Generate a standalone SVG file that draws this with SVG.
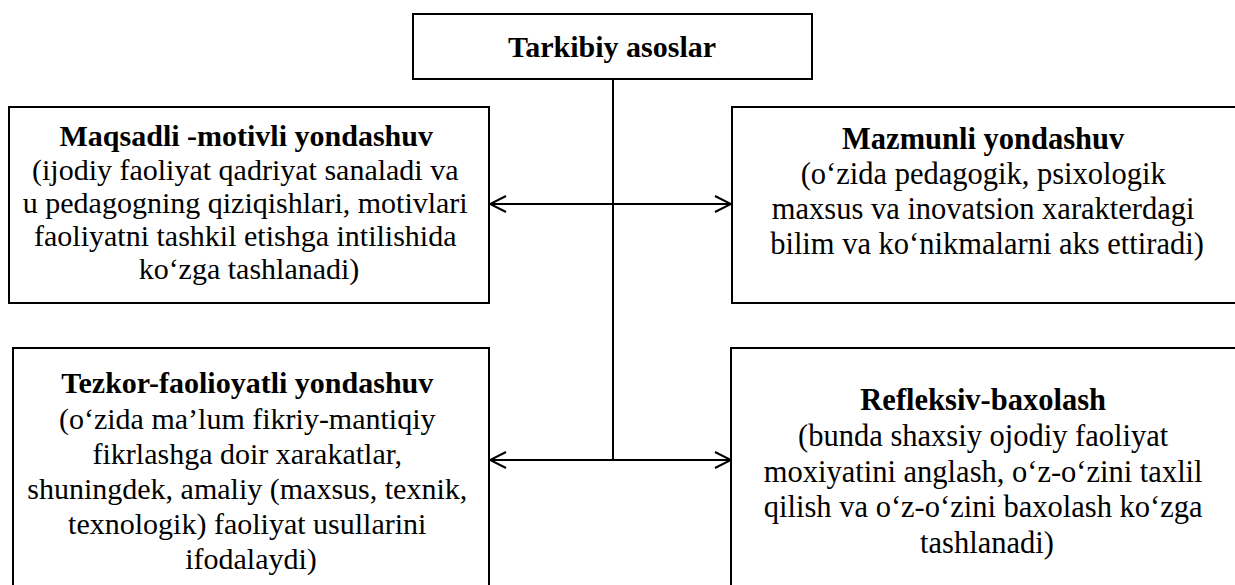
<svg xmlns="http://www.w3.org/2000/svg" width="1235" height="585" viewBox="0 0 1235 585">
  <defs>
    <style>
      .box { fill: #ffffff; stroke: #000000; stroke-width: 2; }
      text { font-family: 'Liberation Serif', 'Times New Roman', serif; font-size: 30px; fill: #000000; text-anchor: middle; }
      .r { font-size: 30.5px; }
      .b { font-weight: bold; }
      .conn { stroke: #000000; stroke-width: 2; fill: none; }
    </style>
    <marker id="arr" viewBox="0 0 20 20" refX="18" refY="10" markerWidth="20" markerHeight="20" markerUnits="userSpaceOnUse" orient="auto-start-reverse">
      <path d="M2,2 L18,10 L2,18" fill="none" stroke="#000" stroke-width="2"/>
    </marker>
  </defs>
  <rect width="1235" height="585" fill="#ffffff"/>

  <g id="connectors">
    <line class="conn" x1="613" y1="79" x2="613" y2="460"/>
    <line class="conn" x1="490" y1="204" x2="731" y2="204" marker-start="url(#arr)" marker-end="url(#arr)"/>
    <line class="conn" x1="490" y1="460" x2="731" y2="460" marker-start="url(#arr)" marker-end="url(#arr)"/>
  </g>

  <g id="node-root" font-family="Liberation Serif, serif">
    <rect class="box" x="413" y="14" width="399" height="65"/>
    <text class="b" x="612" y="57">Tarkibiy asoslar</text>
  </g>

  <g id="node-maqsadli" font-family="Liberation Serif, serif">
    <rect class="box" x="9" y="107" width="480" height="196"/>
    <text x="249">
      <tspan class="b" x="250" y="146">Maqsadli -motivli yondashuv</tspan>
      <tspan x="249" y="180">(ijodiy faoliyat qadriyat sanaladi va</tspan>
      <tspan x="249" y="213">u pedagogning qiziqishlari, motivlari</tspan>
      <tspan x="249" y="246">faoliyatni tashkil etishga intilishida</tspan>
      <tspan x="249" y="279">ko‘zga tashlanadi)</tspan>
    </text>
  </g>

  <g id="node-mazmunli" font-family="Liberation Serif, serif">
    <rect class="box" x="732" y="107" width="520" height="196"/>
    <text class="r" x="987">
      <tspan class="b" x="987" y="149">Mazmunli yondashuv</tspan>
      <tspan x="987" y="184">(o‘zida pedagogik, psixologik</tspan>
      <tspan x="987" y="219">maxsus va inovatsion xarakterdagi</tspan>
      <tspan x="987" y="254">bilim va ko‘nikmalarni aks ettiradi)</tspan>
    </text>
  </g>

  <g id="node-tezkor" font-family="Liberation Serif, serif">
    <rect class="box" x="13" y="348" width="476" height="260"/>
    <text x="251">
      <tspan class="b" x="251" y="393">Tezkor-faolioyatli yondashuv</tspan>
      <tspan x="251" y="429">(o‘zida ma’lum fikriy-mantiqiy</tspan>
      <tspan x="251" y="464">fikrlashga doir xarakatlar,</tspan>
      <tspan x="251" y="499">shuningdek, amaliy (maxsus, texnik,</tspan>
      <tspan x="251" y="534">texnologik) faoliyat usullarini</tspan>
      <tspan x="251" y="569">ifodalaydi)</tspan>
    </text>
  </g>

  <g id="node-refleksiv" font-family="Liberation Serif, serif">
    <rect class="box" x="731" y="348" width="520" height="260"/>
    <text class="r" x="987">
      <tspan class="b" x="987" y="410">Refleksiv-baxolash</tspan>
      <tspan x="987" y="446">(bunda shaxsiy ojodiy faoliyat</tspan>
      <tspan x="987" y="482">moxiyatini anglash, o‘z-o‘zini taxlil</tspan>
      <tspan x="987" y="517">qilish va o‘z-o‘zini baxolash ko‘zga</tspan>
      <tspan x="987" y="553">tashlanadi)</tspan>
    </text>
  </g>
</svg>
